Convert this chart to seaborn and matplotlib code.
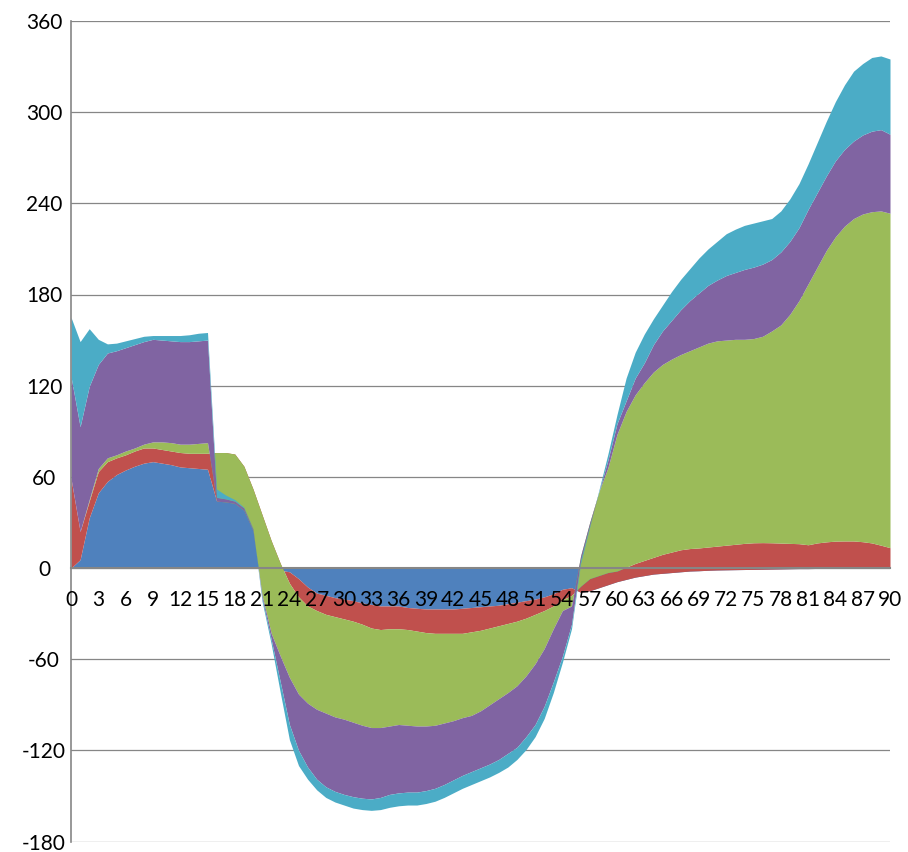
import numpy as np
import matplotlib
matplotlib.use("Agg")
import matplotlib.pyplot as plt
import seaborn as sns

# x categories 0..90
x = np.arange(0, 91)

blue = [0, 5.5, 33, 49.5, 57, 61.5, 64.5, 67, 69, 70, 69, 68, 66.5, 66, 65.5, 65,
        44, 44, 43, 39, 26, -0.5, -1, -1.5, -2.5, -7, -12.5, -16.5, -18, -19.5, -20.5,
        -21.5, -23, -24, -25, -25, -25, -26, -26.5, -27, -27, -27, -27, -26.5, -26, -25.5,
        -25, -24.5, -23.5, -22.5, -21.5, -20.5, -19, -17, -14, -13, -16, -15, -13, -11, -9,
        -7.5, -6, -5, -4, -3.5, -3, -2.5, -2, -1.8, -1.5, -1.3, -1.2, -1.1, -1, -0.9,
        -0.8, -0.7, -0.6, -0.5, -0.4, -0.4, -0.3, -0.3, -0.2, -0.2, -0.2, -0.1, -0.1, -0.1, -0.1]

red = [59, 18.5, 11, 14, 13, 11, 10, 10, 10, 9, 9, 9, 9.5, 9.5, 10, 10.5,
       32, 32, 32, 28, 26, 35.5, 19, 4.5, -7.5, -12, -12.5, -11.5, -12.5, -12.5, -13,
       -13.5, -14, -15.5, -15.5, -15, -15, -14.5, -15, -15.5, -16, -16, -16, -16.5, -16, -15.5,
       -14.5, -13.5, -13, -12.5, -11.5, -10, -9, -8, -7, -5, 4, 8, 8, 8, 7,
       8, 9, 10, 11, 12.5, 13.5, 14.5, 14.8, 15, 15.3, 15.7, 16.2, 16.7, 17.2, 17.5,
       17.5, 17.3, 17, 16.7, 16.4, 15.7, 16.8, 17.5, 17.9, 18, 18, 17.4, 16.6, 15.1, 13.5]

green = [0, 0, 1, 2, 2.5, 2, 2.5, 2, 2.5, 4, 5, 5.5, 5.5, 6, 6.5, 7,
         -32, -32.5, -32.5, -29, -27.5, -53, -61, -61, -62, -64, -64, -65, -65, -66, -66,
         -66.5, -66.5, -65.5, -64.5, -64, -63, -63, -62.5, -61.5, -60.5, -59, -57.5, -55.5, -55, -53,
         -50.5, -48, -45.5, -42.5, -38, -32.5, -25, -15, -7, -7, 20, 37, 55, 69, 90,
         102.5, 111, 117, 122, 125, 127, 128.5, 130.2, 132.3, 134.2, 135.1, 135, 134.9, 134.3, 134.4,
         135.8, 139.4, 143.6, 150.8, 160, 171.7, 181.5, 191.8, 200.3, 207.2, 212.2, 215.7, 218, 220, 220.1]

purple = [67, 69, 74.5, 68.5, 69, 68.5, 68, 68, 67.5, 67.5, 67, 67, 67.5, 67.5, 67.5, 67.5,
          2.5, 2, 1.5, 1.5, 1, -2, -4, -17, -31, -37, -42, -46, -48.5, -49, -49.5,
          -49, -48, -47, -46, -45, -45, -44, -43.5, -42.5, -41.5, -40.5, -39, -38, -37, -37.5,
          -39, -40, -40, -40.5, -40, -40, -38, -35, -30, -12, -3, -2, 0, 5, 7,
          7, 11, 13, 18, 22, 25.5, 29.5, 33, 35.5, 38, 40, 42.5, 44, 46, 47,
          47.5, 47, 48, 48, 48, 49, 49, 49, 50, 50.5, 51, 52, 53, 53.5, 52]

cyan = [39, 56, 38, 16.5, 6, 5, 4.5, 4, 3.5, 2.5, 3, 3.5, 4, 4.5, 5, 5,
        5.5, 2.5, 1, 0.5, 0.5, -2, -3, -7, -10, -10, -8, -7, -7, -7, -7,
        -7.5, -7.5, -7.5, -8, -8.5, -8.5, -8.5, -8.5, -8.5, -8.5, -8.5, -8.5, -8.5, -8.5, -8.5,
        -8.5, -8.5, -9, -8, -8.5, -8, -8, -7, -4, -3, -2, -1, 1, 4, 6,
        15, 17, 19, 17, 17, 19, 20, 21, 23, 24, 25.5, 27.5, 28.5, 29, 29,
        28.5, 27, 27, 28, 29, 30, 33, 36, 39, 42.5, 46, 47, 48.5, 48.5, 49.5]

x_ticks = list(range(0, 91, 3))
x_tick_labels = [str(v) for v in x_ticks]
y_ticks = [-180, -120, -60, 0, 60, 120, 180, 240, 300, 360]

colors = ["#4F81BD", "#C0504D", "#9BBB59", "#8064A2", "#4BACC6"]
grid_gray = "#868686"

sns.set_style("white")
plt.rcParams['font.family'] = ['Lato', 'DejaVu Sans']

W, H = 908, 852
fig = plt.figure(figsize=(W / 100, H / 100), dpi=100)
left, right, top, bottom = 71, 890, 21, 841.5
ax = fig.add_axes([left / W, (H - bottom) / H, (right - left) / W, (bottom - top) / H])

ax.stackplot(x, blue, red, green, purple, cyan, colors=colors, linewidth=0, antialiased=True)

ax.set_xlim(0, 90)
ax.set_ylim(-180, 360)
ax.set_yticks(y_ticks)
ax.set_yticklabels([str(v) for v in y_ticks])
ax.set_xticks(x_ticks)
ax.set_xticklabels(x_tick_labels)
ax.set_xticks(list(range(0, 91)), minor=True)

ax.set_axisbelow(True)
ax.yaxis.grid(True, color=grid_gray, linewidth=0.9)
ax.xaxis.grid(False)
ax.xaxis.set_zorder(4)

for s in ["top", "right"]:
    ax.spines[s].set_visible(False)
ax.spines["bottom"].set_position(("data", 0))
ax.spines["bottom"].set_color(grid_gray)
ax.spines["bottom"].set_linewidth(1.5)
ax.spines["bottom"].set_zorder(4)
ax.spines["left"].set_color(grid_gray)
ax.spines["left"].set_linewidth(1.2)

ax.tick_params(axis="x", which="both", direction="out", length=4, width=0.9,
               color=grid_gray, labelsize=15, pad=11.5, labelcolor="black")
ax.tick_params(axis="y", which="major", direction="out", length=4, width=0.9,
               color=grid_gray, labelsize=15, pad=15.4, labelcolor="black")
for lab in ax.get_yticklabels():
    lab.set_horizontalalignment("center")

fig.savefig("out.png", dpi=100)
